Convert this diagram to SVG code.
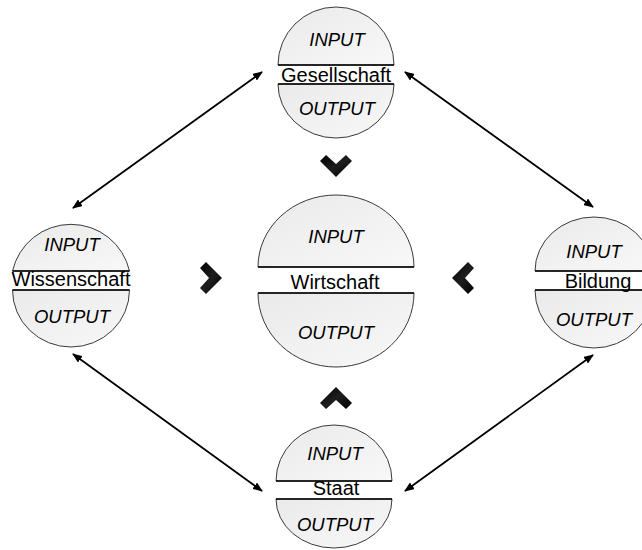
<svg xmlns="http://www.w3.org/2000/svg" width="642" height="550" viewBox="0 0 642 550">
  <defs>
    <linearGradient id="halfFill" x1="0" y1="0" x2="1" y2="1">
      <stop offset="0" stop-color="#eaeaea"/>
      <stop offset="1" stop-color="#f8f8f8"/>
    </linearGradient>
    <linearGradient id="chevFill" x1="0" y1="0" x2="1" y2="1">
      <stop offset="0" stop-color="#000"/>
      <stop offset="0.5" stop-color="#1e1e1e"/>
      <stop offset="1" stop-color="#000"/>
    </linearGradient>
    <marker id="head" viewBox="0 0 10 8" refX="9" refY="4" markerWidth="10" markerHeight="8" markerUnits="userSpaceOnUse" orient="auto-start-reverse">
      <path d="M0,0 L10,4 L0,8 Z" fill="#000"/>
    </marker>
    <style>
      .half { fill: url(#halfFill); stroke: #3a3a3a; stroke-width: 1; }
      .chord { stroke: #000; stroke-width: 1.5; }
      .io { font-family: "Liberation Sans", Arial, sans-serif; font-style: italic; font-size: 18.5px; fill: #000; text-anchor: middle; }
      .name { font-family: "Liberation Sans", Arial, sans-serif; font-size: 20px; fill: #000; text-anchor: middle; }
      .link { stroke: #000; stroke-width: 1.8; fill: none; marker-start: url(#head); marker-end: url(#head); }
      .chev { fill: url(#chevFill); }
    </style>
  </defs>

  <rect width="642" height="550" fill="#fff"/>

  <!-- double-headed links between the outer nodes -->
  <g id="connectors">
    <line class="link" x1="73" y1="208" x2="262" y2="72"/>
    <line class="link" x1="405" y1="72" x2="593" y2="207"/>
    <line class="link" x1="73" y1="354" x2="262" y2="491"/>
    <line class="link" x1="405" y1="491" x2="593" y2="355"/>
  </g>

  <!-- chevrons pointing at the centre node -->
  <g id="chevrons">
    <polygon class="chev" points="320,161 326,155 336,164 346,155 352,161 336,177"/>
    <polygon class="chev" points="320,403 326,409 336,400 346,409 352,403 336,387"/>
    <polygon class="chev" points="200,268 206,262 222,278 206,294 200,288 209,278"/>
    <polygon class="chev" points="474,268 468,262 452,278 468,294 474,288 465,278"/>
  </g>

  <g id="gesellschaft">
    <path class="half" d="M278,65 A58,58 0 0 1 394,65 Z"/>
    <path class="half" d="M278,84 A58,54 0 0 0 394,84 Z"/>
    <line class="chord" x1="278" y1="65" x2="394" y2="65"/>
    <line class="chord" x1="278" y1="84" x2="394" y2="84"/>
    <text class="io" x="337" y="46">INPUT</text>
    <text class="name" x="336" y="82">Gesellschaft</text>
    <text class="io" x="337" y="115">OUTPUT</text>
  </g>

  <g id="wirtschaft">
    <path class="half" d="M258,267 A78,72 0 0 1 414,267 Z"/>
    <path class="half" d="M258,293 A78,74 0 0 0 414,293 Z"/>
    <line class="chord" x1="258" y1="267" x2="414" y2="267"/>
    <line class="chord" x1="258" y1="293" x2="414" y2="293"/>
    <text class="io" x="336" y="243">INPUT</text>
    <text class="name" x="335" y="289">Wirtschaft</text>
    <text class="io" x="336" y="339">OUTPUT</text>
  </g>

  <g id="wissenschaft">
    <path class="half" d="M12.5,271 A60,60 0 0 1 129.5,271 Z"/>
    <path class="half" d="M12.5,290 A58.5,57 0 0 0 129.5,290 Z"/>
    <line class="chord" x1="12.5" y1="271" x2="129.5" y2="271"/>
    <line class="chord" x1="12.5" y1="290" x2="129.5" y2="290"/>
    <text class="io" x="72" y="251">INPUT</text>
    <text class="name" x="71" y="286">Wissenschaft</text>
    <text class="io" x="72" y="323">OUTPUT</text>
  </g>

  <g id="bildung">
    <path class="half" d="M535,271 A59,54 0 0 1 653,271 Z"/>
    <path class="half" d="M535,290 A59,58 0 0 0 653,290 Z"/>
    <line class="chord" x1="535" y1="271" x2="653" y2="271"/>
    <line class="chord" x1="535" y1="290" x2="653" y2="290"/>
    <text class="io" x="594" y="258">INPUT</text>
    <text class="name" x="598" y="288">Bildung</text>
    <text class="io" x="594" y="326">OUTPUT</text>
  </g>

  <g id="staat">
    <path class="half" d="M276,481 A58,56 0 0 1 392,481 Z"/>
    <path class="half" d="M276,499 A58,49 0 0 0 392,499 Z"/>
    <line class="chord" x1="276" y1="481" x2="392" y2="481"/>
    <line class="chord" x1="276" y1="499" x2="392" y2="499"/>
    <text class="io" x="335" y="460">INPUT</text>
    <text class="name" x="336" y="495">Staat</text>
    <text class="io" x="335" y="531">OUTPUT</text>
  </g>
</svg>
